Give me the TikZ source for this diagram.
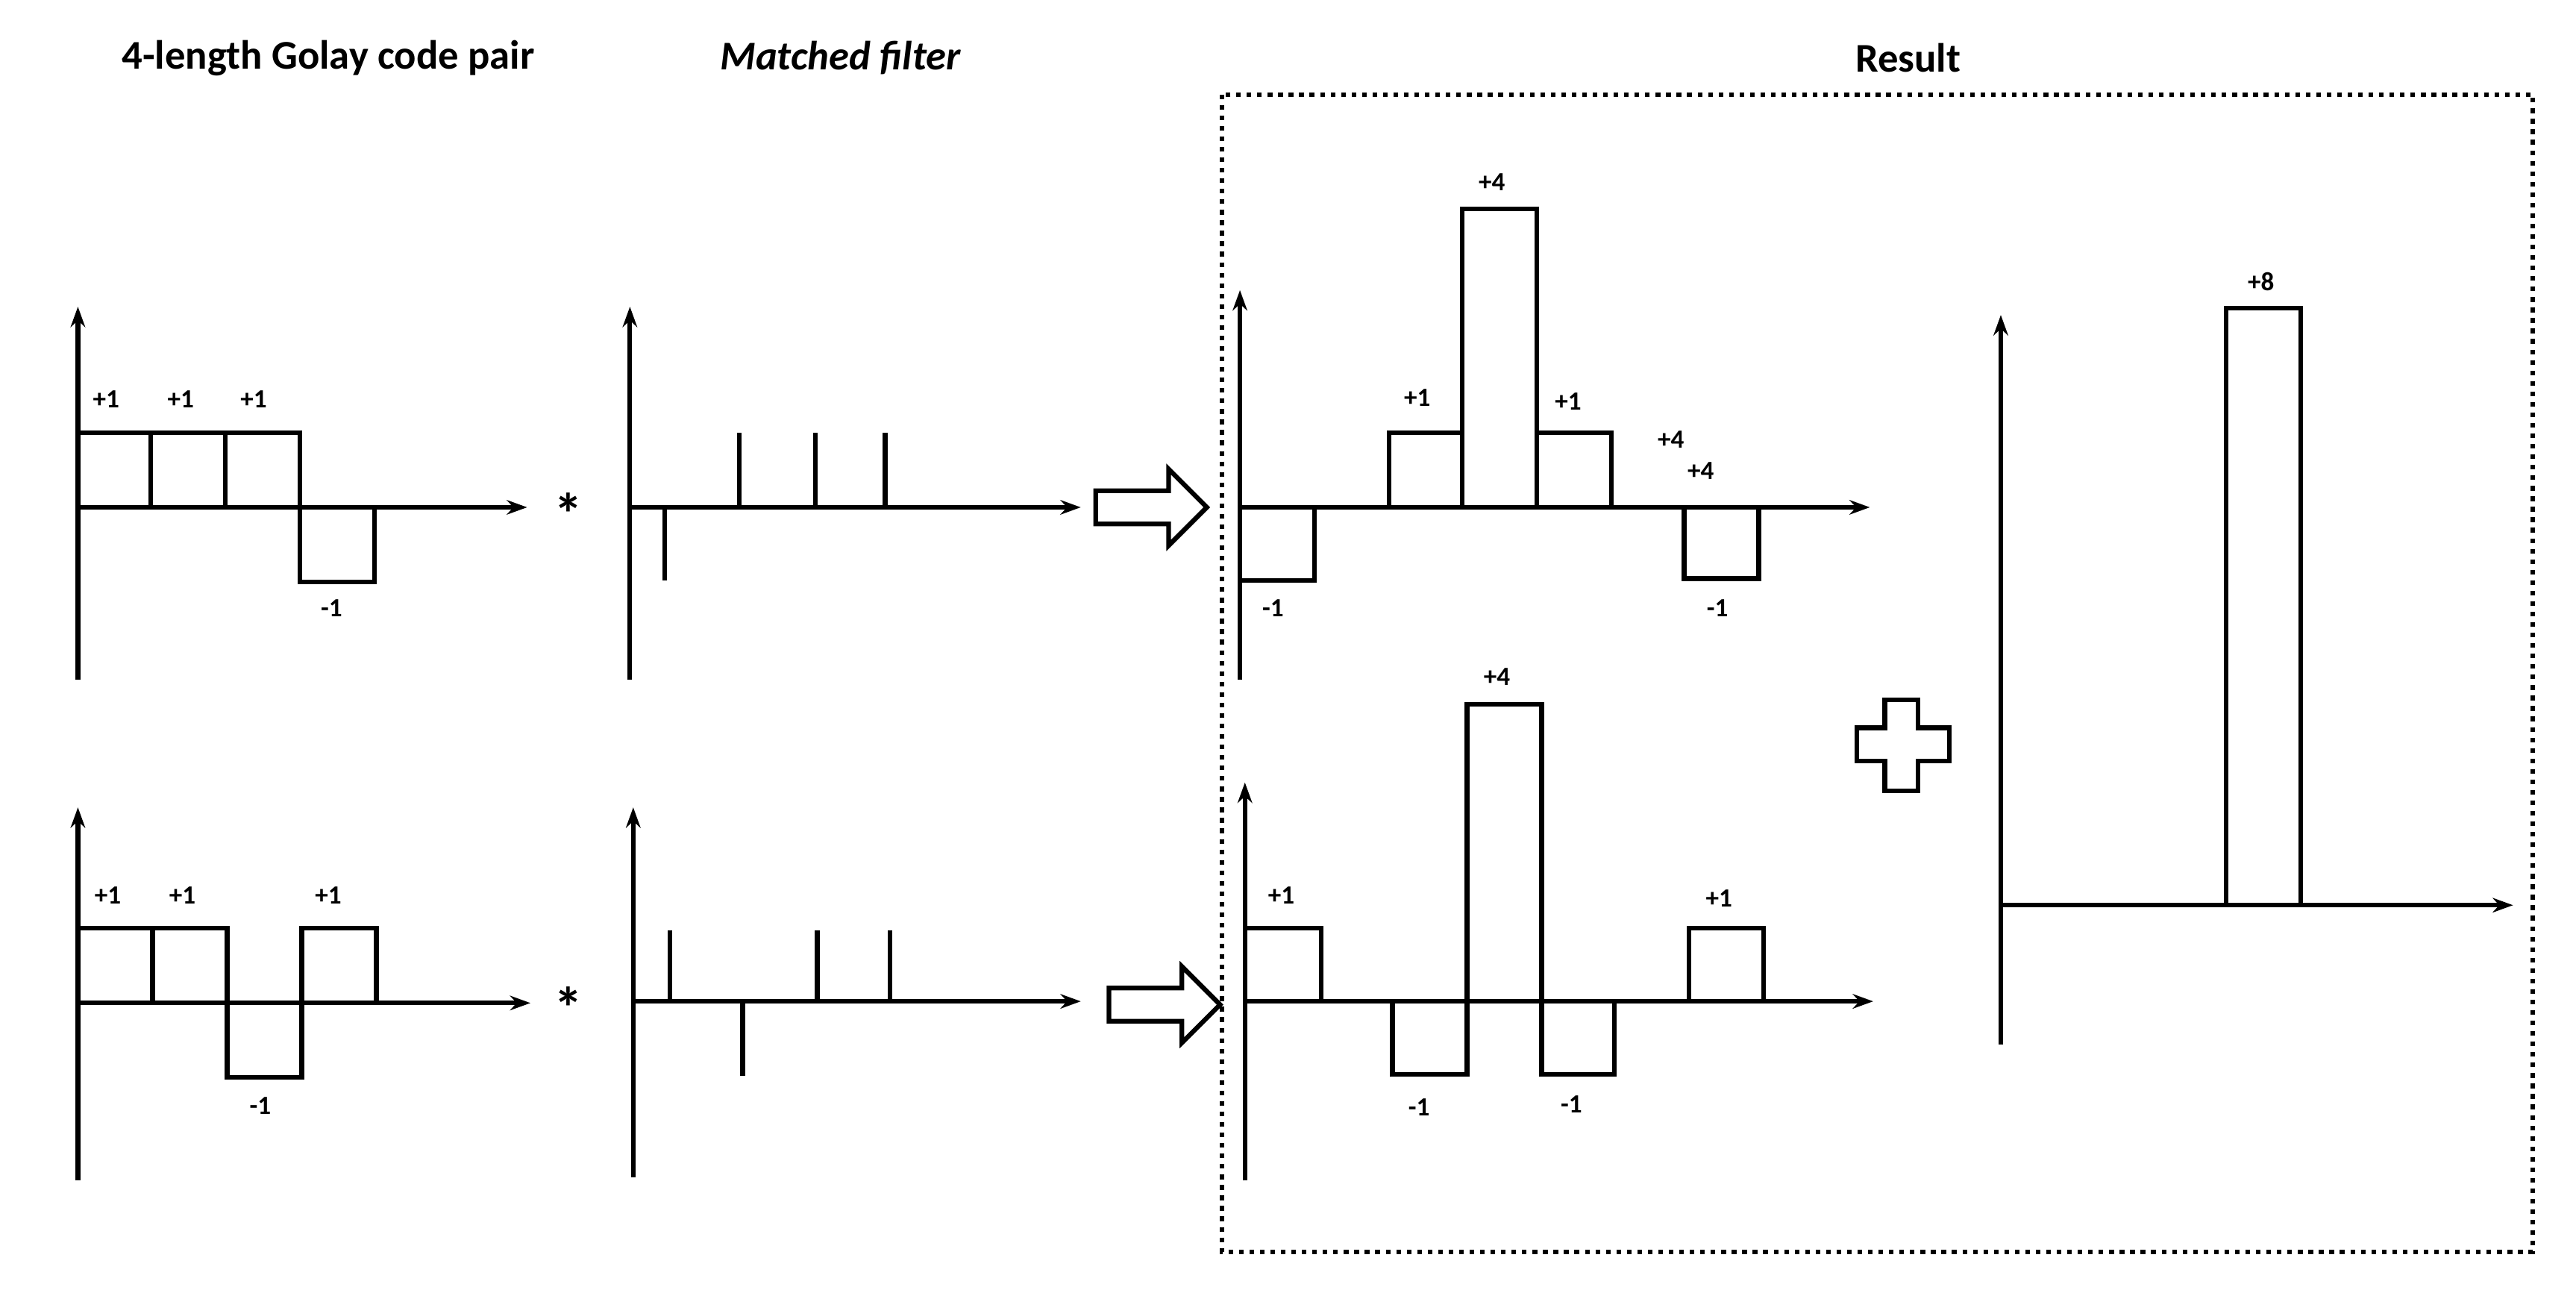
\documentclass[tikz,border=0pt]{standalone}
\usepackage{fontspec}
\setmainfont{Carlito}
\usetikzlibrary{arrows.meta}
\begin{document}
\begin{tikzpicture}[x=0.02cm,y=-0.02cm,line width=1.6pt,
  ax/.style={-{Stealth[length=7pt,width=5pt]}},
  lab/.style={font=\fontsize{9}{10}\selectfont\bfseries,inner sep=0pt},
  ttl/.style={font=\fontsize{14}{16}\selectfont\bfseries,inner sep=0pt},
  bar/.style={draw,line width=1.6pt},
  hol/.style={draw,line width=1.6pt,line join=miter}]
\useasboundingbox (0,0) rectangle (1554,777.7);
% titles
\node[ttl] (t1) at (198,35) {4-length Golay code pair};
\node[ttl,font=\fontsize{14}{16}\selectfont\bfseries\itshape] (t2) at (507,35) {Matched filter};
\node[ttl] (t3) at (1151,35) {Result};
\draw[dotted,line width=1.6pt] (737,57) rectangle (1528,755);
% top-left code
\draw[ax] (47,410) -- (47,185);
\draw[ax] (47,306) -- (318,306);
\draw[bar] (47,261) rectangle (91,306);
\draw[bar] (91,261) rectangle (136,306);
\draw[bar] (136,261) rectangle (181,306);
\draw[bar] (181,306) rectangle (226,351);
\node[lab] at (64,241) {+1};\node[lab] at (109,241) {+1};\node[lab] at (153,241) {+1};
\node[lab] at (200,367) {-1};
\node[font=\fontsize{20}{20}\selectfont\bfseries] at (343,310) {*};
% top MF
\draw[ax] (380,410) -- (380,185);
\draw[ax] (380,306) -- (652,306);
\draw (401,306) -- (401,350);
\draw (446,306) -- (446,261);\draw (492,306) -- (492,261);\draw (534,306) -- (534,261);
% hollow arrows
\draw[hol] (661,296) -- (705,296) -- (705,283) -- (728,306) -- (705,329) -- (705,316) -- (661,316) -- cycle;
\draw[hol] (669,596) -- (713,596) -- (713,583) -- (736,606) -- (713,629) -- (713,616) -- (669,616) -- cycle;
% top result
\draw[ax] (748,410) -- (748,175);
\draw[ax] (748,306) -- (1128,306);
\draw[bar] (748,306) rectangle (793,350);
\draw[bar] (838,261) rectangle (882,306);
\draw[bar] (882,126) rectangle (927,306);
\draw[bar] (927,261) rectangle (972,306);
\draw[bar] (1016,306) rectangle (1061,349);
\node[lab] at (768,367) {-1};\node[lab] at (855,240) {+1};\node[lab] at (900,110) {+4};
\node[lab] at (946,242) {+1};\node[lab] at (1008,265) {+4};\node[lab] at (1026,284) {+4};
\node[lab] at (1036,367) {-1};
% bottom-left code
\draw[ax] (47,712) -- (47,487);
\draw[ax] (47,605) -- (320,605);
\draw[bar] (47,560) rectangle (92,605);
\draw[bar] (92,560) rectangle (137,605);
\draw[bar] (137,605) rectangle (182,650);
\draw[bar] (182,560) rectangle (227,605);
\node[lab] at (65,540) {+1};\node[lab] at (110,540) {+1};\node[lab] at (198,540) {+1};
\node[lab] at (157,667) {-1};
\node[font=\fontsize{20}{20}\selectfont\bfseries] at (343,608) {*};
% bottom MF
\draw[ax] (382,710) -- (382,487);
\draw[ax] (382,604) -- (652,604);
\draw (404,604) -- (404,561);
\draw (448,604) -- (448,649);
\draw (493,604) -- (493,561);\draw (537,604) -- (537,561);
% bottom result
\draw[ax] (751,712) -- (751,472);
\draw[ax] (751,604) -- (1130,604);
\draw[bar] (751,560) rectangle (797,604);
\draw[bar] (840,604) rectangle (885,648);
\draw[bar] (885,425) rectangle (930,604);
\draw[bar] (930,604) rectangle (974,648);
\draw[bar] (1019,560) rectangle (1064,604);
\node[lab] at (773,540) {+1};\node[lab] at (856,668) {-1};\node[lab] at (903,408) {+4};
\node[lab] at (948,666) {-1};\node[lab] at (1037,542) {+1};
% plus
\draw[hol] (1137,422) -- (1157,422) -- (1157,439) -- (1176,439) -- (1176,459) -- (1157,459) -- (1157,477) -- (1137,477) -- (1137,459) -- (1120,459) -- (1120,439) -- (1137,439) -- cycle;
% final
\draw[ax] (1207,630) -- (1207,190);
\draw[ax] (1207,546) -- (1516,546);
\draw[bar] (1343,186) rectangle (1388,546);
\node[lab] at (1364,170) {+8};
\end{tikzpicture}
\end{document}
